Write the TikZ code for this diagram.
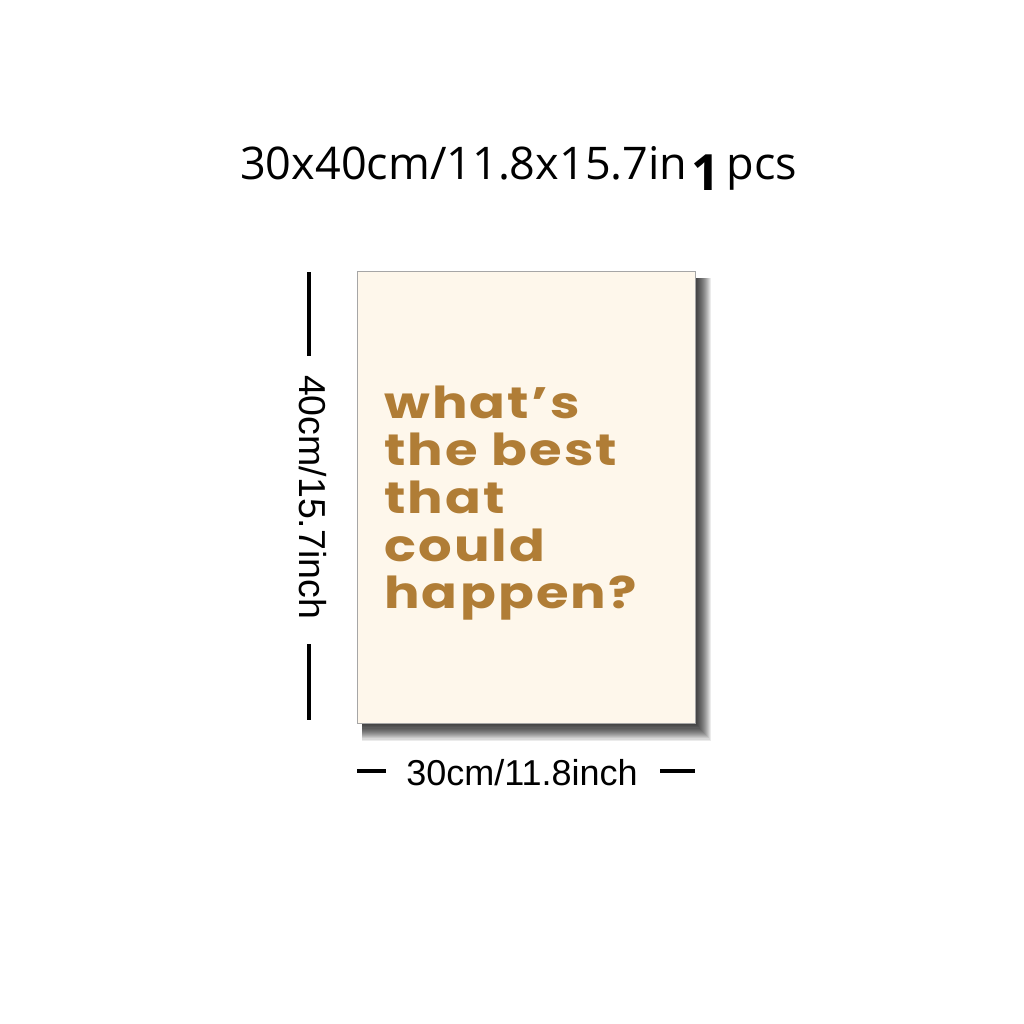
\documentclass[tikz,border=0pt]{standalone}
\usepackage{fontspec}
\usepackage{tikz}
\newfontfamily\titlefont{Open Sans}
\newfontfamily\dimfont{Liberation Sans}
\newfontfamily\posterfont{Poppins}[BoldFont={* Bold}, FakeStretch=1.2, LetterSpace=5]
\definecolor{cream}{HTML}{FEF7EB}
\definecolor{ochre}{HTML}{B07D36}
\tikzset{
  dimline/.style={line width=4.5pt, black},
  dimtext/.style={font=\dimfont\fontsize{36}{36}\selectfont, inner sep=0pt},
  quote/.style={font=\posterfont\bfseries\fontsize{44}{48}\selectfont, text=ochre, inner sep=0pt, anchor=base west}
}
\begin{document}
\begin{tikzpicture}[x=1pt, y=-1pt]
                \useasboundingbox[fill=white] (0, 0) rectangle (1024, 1024);

                % title
                \node[font=\titlefont\fontsize{45}{45}\selectfont, inner sep=0pt, anchor=base west] (size) at (240, 180) {30x40cm/11.8x15.7in};
                \node[font=\titlefont\bfseries\fontsize{50}{50}\selectfont, inner sep=0pt, anchor=base west] (one) at ([xshift=4pt, yshift=-11pt]size.base east) {1};
                \node[font=\titlefont\fontsize{45}{45}\selectfont, inner sep=0pt, anchor=base west] (pcs) at ([xshift=6pt, yshift=11pt]one.base east) {pcs};

                % shadow
                \foreach \d in {1,...,16}
                  \fill[black, opacity=0.08] (362, 278) rectangle (695+\d, 723+1.1*\d);

                % poster
                \node[draw=gray!70, line width=0.8pt, fill=cream, minimum width=338pt, minimum height=452pt, inner sep=0pt, anchor=north west] (poster) at (357, 271) {};

                \foreach \w [count=\i] in {what’s, the best, that, could, happen?}
                  \node[quote] (q\i) at (384, 418+47.7*\i-47.7) {\w};

                % height
                \coordinate (h1) at (309, 272);
                \coordinate (h2) at (309, 356);
                \coordinate (h3) at (309, 644);
                \coordinate (h4) at (309, 720);
                \draw[dimline] (h1) -- (h2);
                \draw[dimline] (h3) -- (h4);
                \node[dimtext, rotate=-90, font=\dimfont\fontsize{37.5}{37.5}\selectfont] (height) at (313, 497) {40cm/15.7inch};

                % width
                \coordinate (w1) at (357, 771);
                \coordinate (w2) at (386, 771);
                \coordinate (w3) at (660, 771);
                \coordinate (w4) at (695, 771);
                \draw[dimline] (w1) -- (w2);
                \draw[dimline] (w3) -- (w4);
                \node[dimtext, anchor=base] (width) at (522, 785) {30cm/11.8inch};

            \end{tikzpicture}
\end{document}
